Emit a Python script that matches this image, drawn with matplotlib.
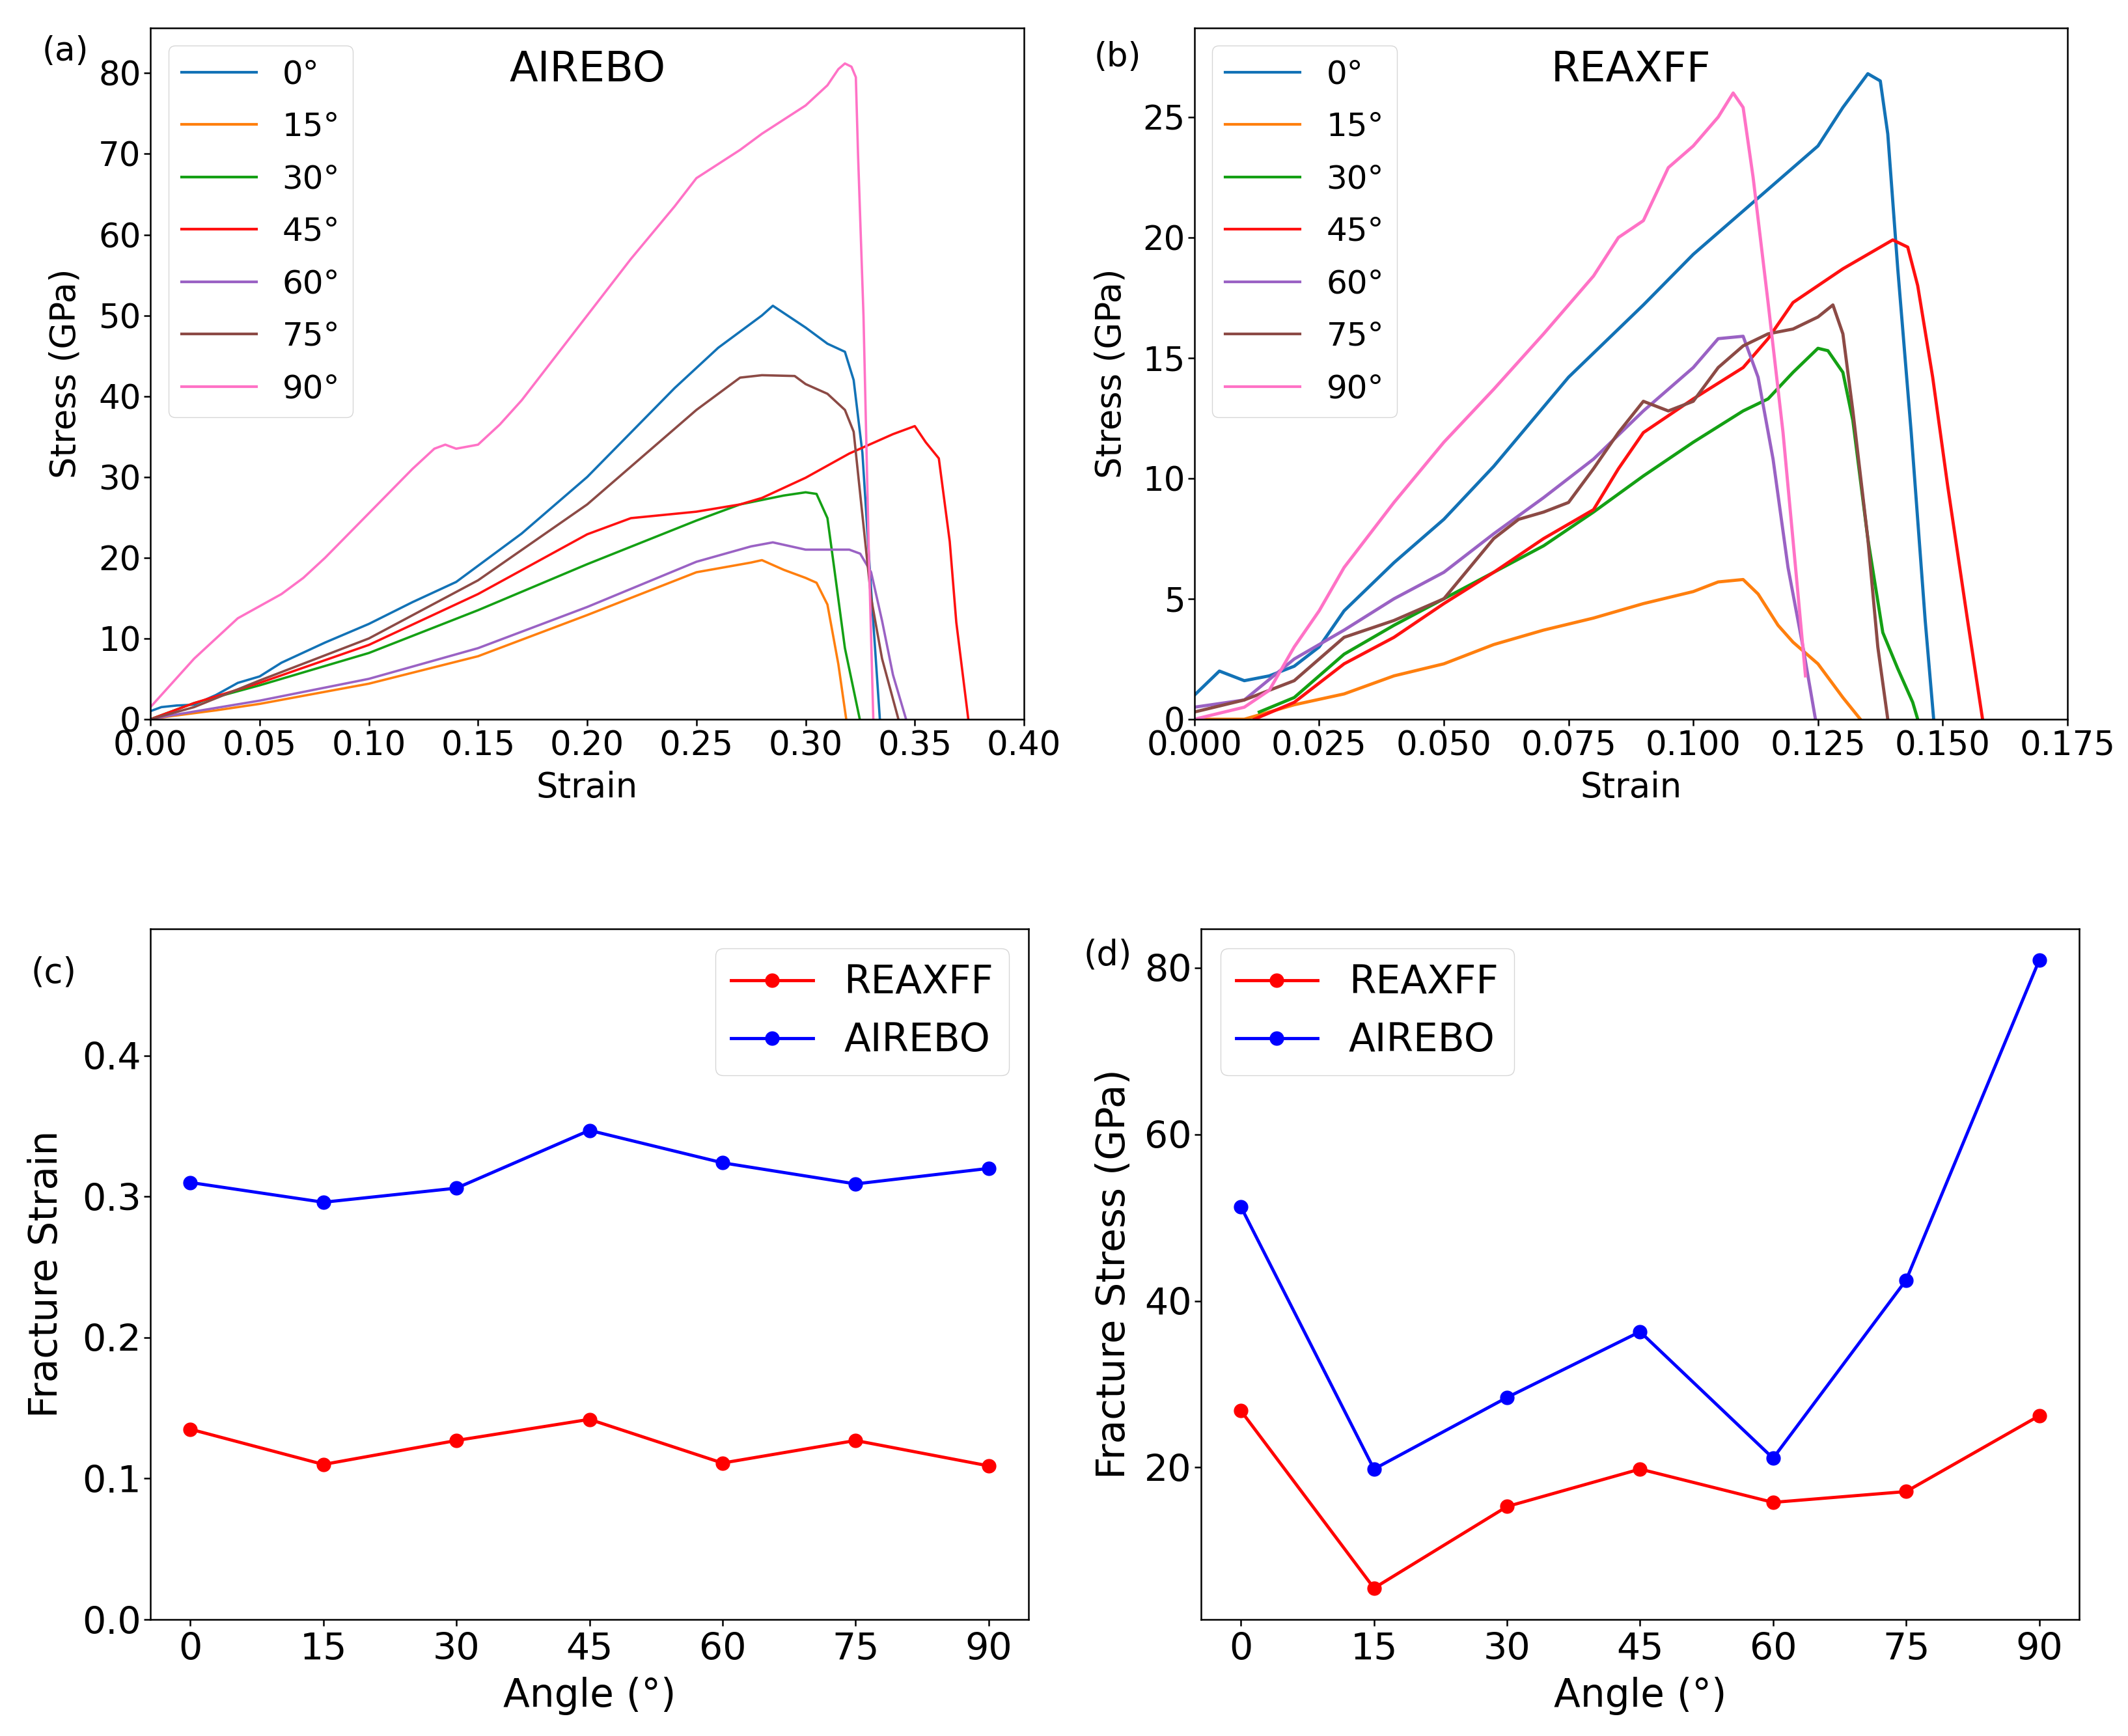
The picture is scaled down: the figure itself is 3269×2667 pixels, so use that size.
import matplotlib
matplotlib.use("Agg")
import matplotlib.pyplot as plt

plt.rcParams['font.family'] = ['DejaVu Sans']

# ---------------- data ----------------
angle_labels = ["0°", "15°", "30°", "45°", "60°", "75°", "90°"]
angles = [0, 15, 30, 45, 60, 75, 90]

# Panel (a) AIREBO stress-strain
a0_x = [0, 0.005, 0.012, 0.02, 0.03, 0.04, 0.05, 0.06, 0.08, 0.10, 0.12, 0.14, 0.15, 0.17, 0.20, 0.22, 0.24, 0.26, 0.28, 0.285, 0.29, 0.30, 0.31, 0.318, 0.322, 0.326, 0.33, 0.334]
a0_y = [1.0, 1.5, 1.7, 1.8, 3.0, 4.5, 5.3, 7.0, 9.5, 11.8, 14.5, 17.0, 19.0, 23.0, 30.0, 35.5, 41.0, 46.0, 50.0, 51.2, 50.3, 48.5, 46.5, 45.5, 42.0, 33.0, 16.0, 0.0]
a15_x = [0, 0.01, 0.03, 0.05, 0.10, 0.15, 0.20, 0.25, 0.275, 0.28, 0.29, 0.30, 0.305, 0.31, 0.315, 0.3186]
a15_y = [0, 0.4, 1.1, 1.9, 4.4, 7.8, 12.9, 18.2, 19.4, 19.7, 18.5, 17.5, 16.9, 14.2, 6.8, 0.0]
a30_x = [0, 0.02, 0.05, 0.10, 0.15, 0.20, 0.25, 0.27, 0.29, 0.30, 0.305, 0.31, 0.313, 0.318, 0.3248]
a30_y = [0, 2.0, 4.2, 8.2, 13.5, 19.2, 24.6, 26.6, 27.7, 28.1, 27.9, 24.9, 18.9, 8.8, 0.0]
a45_x = [0, 0.02, 0.05, 0.10, 0.15, 0.20, 0.22, 0.25, 0.27, 0.28, 0.30, 0.32, 0.34, 0.35, 0.355, 0.361, 0.366, 0.369, 0.3745]
a45_y = [0, 2.0, 4.5, 9.2, 15.5, 22.9, 24.9, 25.7, 26.6, 27.4, 29.9, 32.9, 35.3, 36.3, 34.3, 32.3, 22.0, 12.0, 0.0]
a60_x = [0, 0.01, 0.05, 0.10, 0.15, 0.20, 0.25, 0.275, 0.285, 0.30, 0.32, 0.325, 0.33, 0.335, 0.34, 0.346]
a60_y = [0, 0.5, 2.3, 5.0, 8.8, 13.9, 19.5, 21.4, 21.9, 21.0, 21.0, 20.5, 18.2, 12.2, 5.5, 0.0]
a75_x = [0, 0.02, 0.05, 0.10, 0.15, 0.20, 0.25, 0.27, 0.28, 0.295, 0.30, 0.31, 0.318, 0.322, 0.33, 0.335, 0.3425]
a75_y = [0, 1.5, 4.8, 10.0, 17.2, 26.6, 38.3, 42.3, 42.6, 42.5, 41.5, 40.3, 38.3, 35.6, 15.0, 7.5, 0.0]
a90_x = [0, 0.01, 0.02, 0.03, 0.04, 0.05, 0.06, 0.07, 0.08, 0.10, 0.12, 0.13, 0.135, 0.14, 0.15, 0.16, 0.17, 0.18, 0.20, 0.22, 0.24, 0.25, 0.27, 0.28, 0.30, 0.31, 0.315, 0.318, 0.321, 0.323, 0.324, 0.3265, 0.329, 0.331]
a90_y = [1.5, 4.5, 7.5, 10.0, 12.5, 14.0, 15.5, 17.5, 20.0, 25.5, 31.0, 33.5, 34.0, 33.5, 34.0, 36.5, 39.5, 43.0, 50.0, 57.0, 63.5, 67.0, 70.5, 72.5, 76.0, 78.5, 80.5, 81.2, 80.8, 79.5, 70.0, 50.0, 20.0, 0.0]

# Panel (b) REAXFF stress-strain
b0_x = [0, 0.005, 0.01, 0.015, 0.02, 0.025, 0.03, 0.04, 0.05, 0.06, 0.075, 0.09, 0.10, 0.115, 0.125, 0.13, 0.135, 0.1375, 0.139, 0.141, 0.1437, 0.1465, 0.1482]
b0_y = [1.0, 2.0, 1.6, 1.8, 2.2, 3.0, 4.5, 6.5, 8.3, 10.5, 14.2, 17.2, 19.3, 22.0, 23.8, 25.4, 26.8, 26.5, 24.3, 18.7, 11.9, 4.1, 0.0]
b15_x = [0, 0.01, 0.02, 0.03, 0.04, 0.05, 0.06, 0.07, 0.08, 0.09, 0.10, 0.105, 0.11, 0.113, 0.117, 0.12, 0.125, 0.13, 0.1335]
b15_y = [0, 0.0, 0.6, 1.05, 1.8, 2.3, 3.1, 3.7, 4.2, 4.8, 5.3, 5.7, 5.8, 5.2, 3.9, 3.2, 2.3, 0.9, 0.0]
b30_x = [0.013, 0.02, 0.03, 0.04, 0.05, 0.06, 0.07, 0.08, 0.09, 0.10, 0.11, 0.115, 0.12, 0.125, 0.127, 0.13, 0.132, 0.135, 0.138, 0.141, 0.144, 0.145]
b30_y = [0.3, 0.9, 2.7, 3.9, 5.0, 6.1, 7.2, 8.6, 10.1, 11.5, 12.8, 13.3, 14.4, 15.4, 15.3, 14.4, 12.4, 7.5, 3.6, 2.1, 0.7, 0.0]
b45_x = [0.012, 0.02, 0.03, 0.04, 0.05, 0.06, 0.07, 0.08, 0.085, 0.09, 0.10, 0.11, 0.115, 0.12, 0.125, 0.13, 0.135, 0.14, 0.143, 0.145, 0.148, 0.151, 0.155, 0.158]
b45_y = [0.0, 0.7, 2.3, 3.4, 4.8, 6.1, 7.5, 8.7, 10.4, 11.9, 13.3, 14.6, 15.8, 17.3, 18.0, 18.7, 19.3, 19.9, 19.6, 18.0, 14.2, 9.7, 4.1, 0.0]
b60_x = [0, 0.01, 0.02, 0.03, 0.04, 0.05, 0.06, 0.07, 0.08, 0.09, 0.10, 0.105, 0.11, 0.113, 0.116, 0.119, 0.122, 0.1245]
b60_y = [0.5, 0.8, 2.5, 3.7, 5.0, 6.1, 7.7, 9.2, 10.8, 12.8, 14.6, 15.8, 15.9, 14.2, 10.8, 6.3, 3.0, 0.0]
b75_x = [0, 0.01, 0.02, 0.03, 0.04, 0.05, 0.06, 0.065, 0.07, 0.075, 0.08, 0.085, 0.09, 0.095, 0.10, 0.105, 0.11, 0.115, 0.12, 0.125, 0.128, 0.13, 0.132, 0.135, 0.137, 0.139]
b75_y = [0.3, 0.8, 1.6, 3.4, 4.1, 5.0, 7.5, 8.3, 8.6, 9.0, 10.4, 11.9, 13.2, 12.8, 13.2, 14.6, 15.5, 16.0, 16.2, 16.7, 17.2, 16.0, 12.8, 7.5, 3.0, 0.0]
b90_x = [0, 0.01, 0.015, 0.02, 0.025, 0.03, 0.04, 0.05, 0.06, 0.07, 0.08, 0.085, 0.09, 0.095, 0.10, 0.105, 0.108, 0.11, 0.112, 0.115, 0.118, 0.121, 0.1225]
b90_y = [0.0, 0.5, 1.2, 3.0, 4.5, 6.3, 9.0, 11.5, 13.7, 16.0, 18.4, 20.0, 20.7, 22.9, 23.8, 25.0, 26.0, 25.4, 22.5, 17.3, 11.9, 5.2, 1.8]

# Panel (c) fracture strain, panel (d) fracture stress
strain_reaxff = [0.135, 0.110, 0.127, 0.142, 0.111, 0.127, 0.109]
strain_airebo = [0.310, 0.296, 0.306, 0.347, 0.324, 0.309, 0.320]
stress_reaxff = [26.8, 5.5, 15.3, 19.8, 15.8, 17.1, 26.2]
stress_airebo = [51.3, 19.8, 28.4, 36.3, 21.1, 42.5, 80.9]

airebo_curves = [(a0_x, a0_y), (a15_x, a15_y), (a30_x, a30_y), (a45_x, a45_y),
                 (a60_x, a60_y), (a75_x, a75_y), (a90_x, a90_y)]
reaxff_curves = [(b0_x, b0_y), (b15_x, b15_y), (b30_x, b30_y), (b45_x, b45_y),
                 (b60_x, b60_y), (b75_x, b75_y), (b90_x, b90_y)]

colors = ['#1272b6', '#ff7f0e', '#14a014', '#ff1010', '#9a62c4', '#8c4a45', '#ff72c6']

# ---------------- figure ----------------
fig = plt.figure(figsize=(32.69, 26.67), dpi=100)

ax_a = fig.add_axes([0.0707, 0.5857, 0.4105, 0.3982])
ax_b = fig.add_axes([0.5613, 0.5857, 0.4102, 0.3982])
ax_c = fig.add_axes([0.0707, 0.0671, 0.4126, 0.3979])
ax_d = fig.add_axes([0.5644, 0.0671, 0.4126, 0.3979])

for ax in (ax_a, ax_b, ax_c, ax_d):
    for sp in ax.spines.values():
        sp.set_linewidth(1.8)
    ax.tick_params(width=1.8, length=7)

top_tick = 37
top_lab = 38
top_leg = 36

def draw_curves(ax, curves, lw):
    for (x, y), c, lab in zip(curves, colors, angle_labels):
        ax.plot(x, y, color=c, lw=lw, label=lab)

draw_curves(ax_a, airebo_curves, 2.6)
ax_a.set_xlim(0, 0.40)
ax_a.set_ylim(0, 85.6)
ax_a.set_xticks([0.00, 0.05, 0.10, 0.15, 0.20, 0.25, 0.30, 0.35, 0.40])
ax_a.set_xticklabels(['0.00', '0.05', '0.10', '0.15', '0.20', '0.25', '0.30', '0.35', '0.40'])
ax_a.set_yticks([0, 10, 20, 30, 40, 50, 60, 70, 80])
ax_a.tick_params(labelsize=top_tick)
ax_a.tick_params(axis='x', pad=5)
ax_a.set_xlabel('Strain', fontsize=top_lab, labelpad=9)
ax_a.set_ylabel('Stress (GPa)', fontsize=top_lab, labelpad=18)
leg = ax_a.legend(loc='upper left', fontsize=top_leg, handlelength=2.3, labelspacing=0.65,
                  borderaxespad=0.55)
for h in leg.get_lines():
    h.set_linewidth(3.0)
ax_a.text(0.5, 0.94, 'AIREBO', transform=ax_a.transAxes, ha='center', va='center', fontsize=46)

draw_curves(ax_b, reaxff_curves, 3.5)
ax_b.set_xlim(0, 0.175)
ax_b.set_ylim(0, 28.7)
ax_b.set_xticks([0.000, 0.025, 0.050, 0.075, 0.100, 0.125, 0.150, 0.175])
ax_b.set_xticklabels(['0.000', '0.025', '0.050', '0.075', '0.100', '0.125', '0.150', '0.175'])
ax_b.set_yticks([0, 5, 10, 15, 20, 25])
ax_b.tick_params(labelsize=top_tick)
ax_b.tick_params(axis='x', pad=5)
ax_b.set_xlabel('Strain', fontsize=top_lab, labelpad=9)
ax_b.set_ylabel('Stress (GPa)', fontsize=top_lab, labelpad=16)
leg = ax_b.legend(loc='upper left', fontsize=top_leg, handlelength=2.3, labelspacing=0.65,
                  borderaxespad=0.55)
for h in leg.get_lines():
    h.set_linewidth(3.0)
ax_b.text(0.5, 0.94, 'REAXFF', transform=ax_b.transAxes, ha='center', va='center', fontsize=46)

bot_tick = 41
bot_lab = 43
bot_leg = 43

ax_c.plot(angles, strain_reaxff, color='red', marker='o', lw=3.5, ms=15, label='REAXFF')
ax_c.plot(angles, strain_airebo, color='blue', marker='o', lw=3.5, ms=15, label='AIREBO')
ax_c.set_xlim(-4.5, 94.5)
ax_c.set_ylim(0, 0.49)
ax_c.set_xticks(angles)
ax_c.set_yticks([0.0, 0.1, 0.2, 0.3, 0.4])
ax_c.set_yticklabels(['0.0', '0.1', '0.2', '0.3', '0.4'])
ax_c.tick_params(labelsize=bot_tick)
ax_c.tick_params(axis='x', pad=7)
ax_c.set_xlabel('Angle (°)', fontsize=bot_lab, labelpad=10)
ax_c.set_ylabel('Fracture Strain', fontsize=bot_lab, labelpad=18)
ax_c.legend(loc='upper right', fontsize=bot_leg, handlelength=2.1, labelspacing=0.5,
            borderaxespad=0.5)

ax_d.plot(angles, stress_reaxff, color='red', marker='o', lw=3.5, ms=15, label='REAXFF')
ax_d.plot(angles, stress_airebo, color='blue', marker='o', lw=3.5, ms=15, label='AIREBO')
ax_d.set_xlim(-4.5, 94.5)
ax_d.set_ylim(1.73, 84.7)
ax_d.set_xticks(angles)
ax_d.set_yticks([20, 40, 60, 80])
ax_d.tick_params(labelsize=bot_tick)
ax_d.tick_params(axis='x', pad=7)
ax_d.set_xlabel('Angle (°)', fontsize=bot_lab, labelpad=10)
ax_d.set_ylabel('Fracture Stress (GPa)', fontsize=bot_lab, labelpad=12)
ax_d.legend(loc='upper left', fontsize=bot_leg, handlelength=2.1, labelspacing=0.5,
            borderaxespad=0.5)

fig.text(100 / 3269, 1 - 79 / 2667, '(a)', fontsize=37, ha='center', va='center')
fig.text(1717 / 3269, 1 - 88 / 2667, '(b)', fontsize=37, ha='center', va='center')
fig.text(83 / 3269, 1 - 1495 / 2667, '(c)', fontsize=38, ha='center', va='center')
fig.text(1702 / 3269, 1 - 1467 / 2667, '(d)', fontsize=38, ha='center', va='center')

fig.savefig('out.png', dpi=100)
